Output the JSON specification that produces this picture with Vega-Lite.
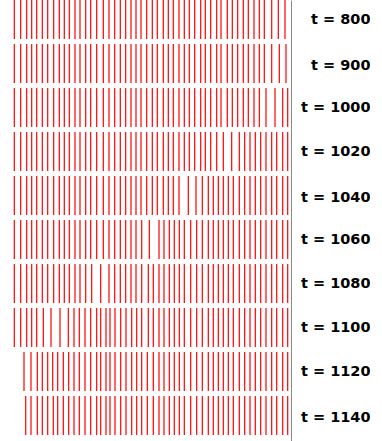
{
  "$schema": "https://vega.github.io/schema/vega-lite/v6.json",
  "width": 291,
  "height": 441,
  "padding": 0,
  "background": "white",
  "config": {"view": {"stroke": null}},
  "data": {"values": [
{"t":800,"x":14.3},{"t":800,"x":20.7},{"t":800,"x":26.7},{"t":800,"x":31.7},{"t":800,"x":36.7},{"t":800,"x":42.3},{"t":800,"x":47.7},{"t":800,"x":53.7},{"t":800,"x":59.3},{"t":800,"x":64.3},{"t":800,"x":69.3},{"t":800,"x":75},{"t":800,"x":80},{"t":800,"x":85.7},{"t":800,"x":90.7},{"t":800,"x":96.7},{"t":800,"x":103.3},{"t":800,"x":109},{"t":800,"x":114.7},{"t":800,"x":120.3},{"t":800,"x":125.7},{"t":800,"x":131},{"t":800,"x":136},
{"t":800,"x":141},{"t":800,"x":146.7},{"t":800,"x":152.3},{"t":800,"x":157.3},{"t":800,"x":163.3},{"t":800,"x":168.3},{"t":800,"x":173.3},{"t":800,"x":179},{"t":800,"x":184.3},{"t":800,"x":189.3},{"t":800,"x":194.7},{"t":800,"x":200.7},{"t":800,"x":205.3},{"t":800,"x":210.7},{"t":800,"x":216.7},{"t":800,"x":221},{"t":800,"x":227.3},{"t":800,"x":232.3},{"t":800,"x":237.7},{"t":800,"x":243.3},{"t":800,"x":248.3},{"t":800,"x":254},{"t":800,"x":259.3},{"t":800,"x":264.3},{"t":800,"x":271.7},{"t":800,"x":278.3},{"t":800,"x":285},
{"t":900,"x":14.3},{"t":900,"x":20.7},{"t":900,"x":26.7},{"t":900,"x":31.7},{"t":900,"x":36.7},{"t":900,"x":42.3},{"t":900,"x":47.7},{"t":900,"x":53.7},{"t":900,"x":59.3},{"t":900,"x":64.3},{"t":900,"x":69.3},{"t":900,"x":75},{"t":900,"x":80},{"t":900,"x":85.7},{"t":900,"x":90.7},{"t":900,"x":96.7},{"t":900,"x":103.3},{"t":900,"x":109},{"t":900,"x":114.7},{"t":900,"x":120.3},{"t":900,"x":125.7},{"t":900,"x":131},{"t":900,"x":136},
{"t":900,"x":141},{"t":900,"x":146.7},{"t":900,"x":152.3},{"t":900,"x":157.3},{"t":900,"x":163.3},{"t":900,"x":168.3},{"t":900,"x":173.3},{"t":900,"x":179},{"t":900,"x":184.3},{"t":900,"x":189.3},{"t":900,"x":194.7},{"t":900,"x":200.7},{"t":900,"x":205.3},{"t":900,"x":210.7},{"t":900,"x":216.7},{"t":900,"x":221},{"t":900,"x":227.3},{"t":900,"x":232.3},{"t":900,"x":237.7},{"t":900,"x":243.3},{"t":900,"x":248.3},{"t":900,"x":254},{"t":900,"x":259.3},{"t":900,"x":264.3},{"t":900,"x":271.7},{"t":900,"x":279.3},{"t":900,"x":286},
{"t":1000,"x":14.3},{"t":1000,"x":20.7},{"t":1000,"x":26.7},{"t":1000,"x":31.7},{"t":1000,"x":36.7},{"t":1000,"x":42.3},{"t":1000,"x":47.7},{"t":1000,"x":53.7},{"t":1000,"x":59.3},{"t":1000,"x":64.3},{"t":1000,"x":69.3},{"t":1000,"x":75},{"t":1000,"x":80},{"t":1000,"x":85.7},{"t":1000,"x":90.7},{"t":1000,"x":96.7},{"t":1000,"x":103.3},{"t":1000,"x":109},{"t":1000,"x":114.7},{"t":1000,"x":120.3},{"t":1000,"x":125.7},{"t":1000,"x":131},{"t":1000,"x":136},
{"t":1000,"x":141},{"t":1000,"x":146.7},{"t":1000,"x":152.3},{"t":1000,"x":157.3},{"t":1000,"x":163.3},{"t":1000,"x":168.3},{"t":1000,"x":173.3},{"t":1000,"x":179},{"t":1000,"x":184.3},{"t":1000,"x":189.3},{"t":1000,"x":194.7},{"t":1000,"x":200.7},{"t":1000,"x":205.3},{"t":1000,"x":210.7},{"t":1000,"x":216.7},{"t":1000,"x":221},{"t":1000,"x":227.3},{"t":1000,"x":232.3},{"t":1000,"x":237.7},{"t":1000,"x":243.3},{"t":1000,"x":248.3},{"t":1000,"x":254},{"t":1000,"x":259.3},{"t":1000,"x":266},{"t":1000,"x":275},{"t":1000,"x":282.7},{"t":1000,"x":287.7},
{"t":1020,"x":14.3},{"t":1020,"x":20.7},{"t":1020,"x":26.7},{"t":1020,"x":31.7},{"t":1020,"x":36.7},{"t":1020,"x":42.3},{"t":1020,"x":47.7},{"t":1020,"x":53.7},{"t":1020,"x":59.3},{"t":1020,"x":64.3},{"t":1020,"x":69.3},{"t":1020,"x":75},{"t":1020,"x":80},{"t":1020,"x":85.7},{"t":1020,"x":90.7},{"t":1020,"x":96.7},{"t":1020,"x":103.3},{"t":1020,"x":109},{"t":1020,"x":114.7},{"t":1020,"x":120.3},{"t":1020,"x":125.7},{"t":1020,"x":131},{"t":1020,"x":136},
{"t":1020,"x":141},{"t":1020,"x":146.7},{"t":1020,"x":152.3},{"t":1020,"x":157.3},{"t":1020,"x":163.3},{"t":1020,"x":168.3},{"t":1020,"x":173.3},{"t":1020,"x":179},{"t":1020,"x":184.3},{"t":1020,"x":189.3},{"t":1020,"x":194.7},{"t":1020,"x":200.7},{"t":1020,"x":205.3},{"t":1020,"x":210.7},{"t":1020,"x":216.7},{"t":1020,"x":223.3},{"t":1020,"x":231.7},{"t":1020,"x":239.3},{"t":1020,"x":244.7},{"t":1020,"x":250},{"t":1020,"x":255.3},{"t":1020,"x":260.7},{"t":1020,"x":266},{"t":1020,"x":271.7},{"t":1020,"x":276.7},{"t":1020,"x":282.7},{"t":1020,"x":287.7},
{"t":1040,"x":14.3},{"t":1040,"x":20.7},{"t":1040,"x":26.7},{"t":1040,"x":31.7},{"t":1040,"x":36.7},{"t":1040,"x":42.3},{"t":1040,"x":47.7},{"t":1040,"x":53.7},{"t":1040,"x":59.3},{"t":1040,"x":64.3},{"t":1040,"x":69.3},{"t":1040,"x":75},{"t":1040,"x":80},{"t":1040,"x":85.7},{"t":1040,"x":90.7},{"t":1040,"x":96.7},{"t":1040,"x":103.3},{"t":1040,"x":109},{"t":1040,"x":114.7},{"t":1040,"x":120.3},{"t":1040,"x":125.7},{"t":1040,"x":131},{"t":1040,"x":136},
{"t":1040,"x":141},{"t":1040,"x":146.7},{"t":1040,"x":152.3},{"t":1040,"x":157.3},{"t":1040,"x":163.3},{"t":1040,"x":168.3},{"t":1040,"x":173.3},{"t":1040,"x":179},{"t":1040,"x":188.3},{"t":1040,"x":196},{"t":1040,"x":202.3},{"t":1040,"x":208.3},{"t":1040,"x":213.3},{"t":1040,"x":218.3},{"t":1040,"x":223.3},{"t":1040,"x":228.3},{"t":1040,"x":233.3},{"t":1040,"x":239.3},{"t":1040,"x":244.7},{"t":1040,"x":250},{"t":1040,"x":255.3},{"t":1040,"x":260.7},{"t":1040,"x":266},{"t":1040,"x":271.7},{"t":1040,"x":276.7},{"t":1040,"x":282.7},{"t":1040,"x":287.7},
{"t":1060,"x":14.3},{"t":1060,"x":20.7},{"t":1060,"x":26.7},{"t":1060,"x":31.7},{"t":1060,"x":36.7},{"t":1060,"x":42.3},{"t":1060,"x":47.7},{"t":1060,"x":53.7},{"t":1060,"x":59.3},{"t":1060,"x":64.3},{"t":1060,"x":69.3},{"t":1060,"x":75},{"t":1060,"x":80},{"t":1060,"x":85.7},{"t":1060,"x":90.7},{"t":1060,"x":96.7},{"t":1060,"x":103.3},{"t":1060,"x":109},{"t":1060,"x":114.7},{"t":1060,"x":120.3},{"t":1060,"x":125.7},{"t":1060,"x":131},{"t":1060,"x":136},
{"t":1060,"x":141.7},{"t":1060,"x":149.3},{"t":1060,"x":159},{"t":1060,"x":164},{"t":1060,"x":169.3},{"t":1060,"x":174.3},{"t":1060,"x":179.3},{"t":1060,"x":184.3},{"t":1060,"x":190.7},{"t":1060,"x":196.7},{"t":1060,"x":202.3},{"t":1060,"x":208.3},{"t":1060,"x":213.3},{"t":1060,"x":218.3},{"t":1060,"x":223.3},{"t":1060,"x":228.3},{"t":1060,"x":233.3},{"t":1060,"x":239.3},{"t":1060,"x":244.7},{"t":1060,"x":250},{"t":1060,"x":255.3},{"t":1060,"x":260.7},{"t":1060,"x":266},{"t":1060,"x":271.7},{"t":1060,"x":276.7},{"t":1060,"x":282.7},{"t":1060,"x":287.7},
{"t":1080,"x":14.3},{"t":1080,"x":20.7},{"t":1080,"x":26.7},{"t":1080,"x":31.7},{"t":1080,"x":36.7},{"t":1080,"x":42.3},{"t":1080,"x":47.7},{"t":1080,"x":53.7},{"t":1080,"x":59.3},{"t":1080,"x":64.3},{"t":1080,"x":69.3},{"t":1080,"x":75},{"t":1080,"x":80},{"t":1080,"x":85.7},{"t":1080,"x":91.7},{"t":1080,"x":100.7},{"t":1080,"x":109},{"t":1080,"x":114.7},{"t":1080,"x":120.3},{"t":1080,"x":125.7},{"t":1080,"x":131},{"t":1080,"x":136},
{"t":1080,"x":141.7},{"t":1080,"x":148.3},{"t":1080,"x":153.3},{"t":1080,"x":159},{"t":1080,"x":164},{"t":1080,"x":169.3},{"t":1080,"x":174.3},{"t":1080,"x":179.3},{"t":1080,"x":184.3},{"t":1080,"x":190.7},{"t":1080,"x":196.7},{"t":1080,"x":202.3},{"t":1080,"x":208.3},{"t":1080,"x":213.3},{"t":1080,"x":218.3},{"t":1080,"x":223.3},{"t":1080,"x":228.3},{"t":1080,"x":233.3},{"t":1080,"x":239.3},{"t":1080,"x":244.7},{"t":1080,"x":250},{"t":1080,"x":255.3},{"t":1080,"x":260.7},{"t":1080,"x":266},{"t":1080,"x":271.7},{"t":1080,"x":276.7},{"t":1080,"x":282.7},{"t":1080,"x":287.7},
{"t":1100,"x":14.3},{"t":1100,"x":20.7},{"t":1100,"x":26.7},{"t":1100,"x":31.7},{"t":1100,"x":36.7},{"t":1100,"x":43.3},{"t":1100,"x":51},{"t":1100,"x":60},{"t":1100,"x":68.3},{"t":1100,"x":74},{"t":1100,"x":79.3},{"t":1100,"x":85},{"t":1100,"x":90.7},{"t":1100,"x":96.7},{"t":1100,"x":100.7},{"t":1100,"x":106},{"t":1100,"x":110},{"t":1100,"x":115},{"t":1100,"x":120.7},{"t":1100,"x":126},{"t":1100,"x":131.7},{"t":1100,"x":136.7},
{"t":1100,"x":141.7},{"t":1100,"x":148.3},{"t":1100,"x":153.3},{"t":1100,"x":159},{"t":1100,"x":164},{"t":1100,"x":169.3},{"t":1100,"x":174.3},{"t":1100,"x":179.3},{"t":1100,"x":184.3},{"t":1100,"x":190.7},{"t":1100,"x":196.7},{"t":1100,"x":202.3},{"t":1100,"x":208.3},{"t":1100,"x":213.3},{"t":1100,"x":218.3},{"t":1100,"x":223.3},{"t":1100,"x":228.3},{"t":1100,"x":233.3},{"t":1100,"x":239.3},{"t":1100,"x":244.7},{"t":1100,"x":250},{"t":1100,"x":255.3},{"t":1100,"x":260.7},{"t":1100,"x":266},{"t":1100,"x":271.7},{"t":1100,"x":276.7},{"t":1100,"x":282.7},{"t":1100,"x":287.7},
{"t":1120,"x":24},{"t":1120,"x":31},{"t":1120,"x":37.3},{"t":1120,"x":42.3},{"t":1120,"x":47.7},{"t":1120,"x":52.7},{"t":1120,"x":57.7},{"t":1120,"x":63.3},{"t":1120,"x":68.7},{"t":1120,"x":74},{"t":1120,"x":79.3},{"t":1120,"x":85},{"t":1120,"x":90.7},{"t":1120,"x":96.7},{"t":1120,"x":100.7},{"t":1120,"x":106},{"t":1120,"x":110},{"t":1120,"x":115},{"t":1120,"x":120.7},{"t":1120,"x":126},{"t":1120,"x":131.7},{"t":1120,"x":136.7},
{"t":1120,"x":141.7},{"t":1120,"x":147.3},{"t":1120,"x":153.3},{"t":1120,"x":159},{"t":1120,"x":164},{"t":1120,"x":169.3},{"t":1120,"x":174.3},{"t":1120,"x":179.3},{"t":1120,"x":184.3},{"t":1120,"x":190.7},{"t":1120,"x":196.7},{"t":1120,"x":202.3},{"t":1120,"x":208.3},{"t":1120,"x":213.3},{"t":1120,"x":218.3},{"t":1120,"x":223.3},{"t":1120,"x":228.3},{"t":1120,"x":233.3},{"t":1120,"x":239.3},{"t":1120,"x":244.7},{"t":1120,"x":250},{"t":1120,"x":255.3},{"t":1120,"x":260.7},{"t":1120,"x":266},{"t":1120,"x":271.7},{"t":1120,"x":276.7},{"t":1120,"x":282.7},{"t":1120,"x":287.7},
{"t":1140,"x":25.7},{"t":1140,"x":31},{"t":1140,"x":37.3},{"t":1140,"x":42.3},{"t":1140,"x":47.7},{"t":1140,"x":53.3},{"t":1140,"x":57.7},{"t":1140,"x":63.3},{"t":1140,"x":68.7},{"t":1140,"x":74},{"t":1140,"x":79.3},{"t":1140,"x":85},{"t":1140,"x":90.7},{"t":1140,"x":96.7},{"t":1140,"x":100.7},{"t":1140,"x":106},{"t":1140,"x":110},{"t":1140,"x":115},{"t":1140,"x":120.7},{"t":1140,"x":126},{"t":1140,"x":131.7},{"t":1140,"x":136.7},
{"t":1140,"x":141.7},{"t":1140,"x":147.3},{"t":1140,"x":153.3},{"t":1140,"x":159},{"t":1140,"x":164},{"t":1140,"x":169.3},{"t":1140,"x":174.3},{"t":1140,"x":179.3},{"t":1140,"x":184.3},{"t":1140,"x":190.7},{"t":1140,"x":196.7},{"t":1140,"x":202.3},{"t":1140,"x":208.3},{"t":1140,"x":213.3},{"t":1140,"x":218.3},{"t":1140,"x":223.3},{"t":1140,"x":228.3},{"t":1140,"x":233.3},{"t":1140,"x":239.3},{"t":1140,"x":244.7},{"t":1140,"x":250},{"t":1140,"x":255.3},{"t":1140,"x":260.7},{"t":1140,"x":266},{"t":1140,"x":271.7},{"t":1140,"x":276.7},{"t":1140,"x":282.7},{"t":1140,"x":287.7}
  ]},
  "mark": {"type": "tick", "size": 39, "thickness": 1.2, "color": "#ff0000", "opacity": 1},
  "encoding": {
    "x": {"field": "x", "type": "quantitative", "scale": {"domain": [0, 291], "nice": false, "zero": false}, "axis": null},
    "y": {
      "field": "t", "type": "ordinal",
      "scale": {"type": "band", "paddingInner": 0.1136, "paddingOuter": 0.068, "align": 0},
      "axis": {
        "orient": "right", "title": null, "ticks": false, "grid": false,
        "domain": true, "domainColor": "#888888", "domainWidth": 1,
        "labelExpr": "'t = ' + datum.value",
        "labelAlign": "right", "labelBaseline": "middle", "labelPadding": 79,
        "labelOffset": {"condition": {"test": "datum.value == 900 || datum.value == 1040 || datum.value == 1140", "value": 2.5}, "value": 0.8},
        "labelFont": "DejaVu Sans", "labelFontWeight": "bold", "labelFontSize": 14.5, "labelColor": "#000000"
      }
    }
  }
}
